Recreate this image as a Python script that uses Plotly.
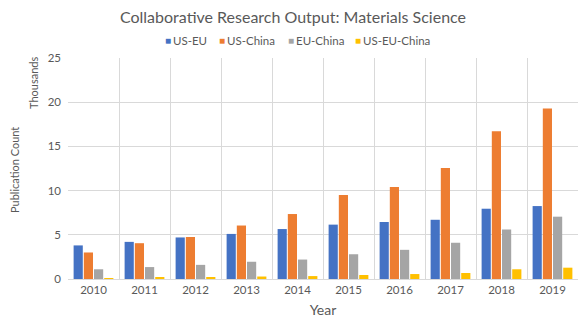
import plotly.graph_objects as go

years = ["2010", "2011", "2012", "2013", "2014", "2015", "2016", "2017", "2018", "2019"]
us_eu = [3.8, 4.2, 4.7, 5.1, 5.65, 6.15, 6.45, 6.7, 7.95, 8.25]
us_china = [3.0, 4.05, 4.75, 6.05, 7.35, 9.5, 10.4, 12.55, 16.7, 19.3]
eu_china = [1.1, 1.35, 1.6, 1.95, 2.2, 2.8, 3.3, 4.1, 5.6, 7.05]
us_eu_china = [0.08, 0.12, 0.22, 0.28, 0.33, 0.45, 0.56, 0.68, 1.1, 1.28]

series = [
    ("US-EU", us_eu, "#4472C4"),
    ("US-China", us_china, "#ED7D31"),
    ("EU-China", eu_china, "#A5A5A5"),
    ("US-EU-China", us_eu_china, "#FFC000"),
]
legend_x = [164, 218, 287, 354]  # left edge of each legend entry (page px)

fig = go.Figure()
for name, vals, col in series:
    fig.add_trace(go.Bar(x=years, y=vals, name=name, marker_color=col,
                         marker_line_width=0, showlegend=False))

font = "Lato, Open Sans, sans-serif"
gray = "#595959"
W, H = 578, 322  # page body has an 8px offset
L, R, T, B = 60, 8, 50, 51
PW, PH = W - L - R, H - T - B
OX, OY = 8 + L, 8 + T  # page position of plot area's top-left

annotations = []
for (name, _, col), lx in zip(series, legend_x):
    ly = 1 + (OY - 40) / PH
    annotations.append(dict(text="■", x=(lx - 1 - OX) / PW, xref="paper", xanchor="left",
                            y=ly, yref="paper", yanchor="middle", showarrow=False,
                            font=dict(size=10, color=col)))
    annotations.append(dict(text=name, x=(lx + 7 - OX) / PW, xref="paper", xanchor="left",
                            y=ly, yref="paper", yanchor="middle", showarrow=False,
                            font=dict(size=11.5, color=gray)))
annotations += [
    dict(text="Publication Count", x=-54 / PW, xref="paper", xanchor="center",
         y=(279 - 170) / PH, yref="paper", yanchor="middle",
         showarrow=False, textangle=-90, font=dict(size=11, color=gray)),
    dict(text="Thousands", x=-35 / PW, xref="paper", xanchor="center",
         y=(279 - 83) / PH, yref="paper", yanchor="middle",
         showarrow=False, textangle=-90, font=dict(size=11, color=gray)),
]

fig.update_layout(
    width=W, height=H,
    margin=dict(l=L, r=R, t=T, b=B, autoexpand=False),
    paper_bgcolor="white", plot_bgcolor="white",
    font=dict(family=font, color=gray, size=12),
    title=dict(text="Collaborative Research Output: Materials Science",
               x=(293 - 8) / W, xanchor="center", xref="container",
               y=1 - 9 / H, yanchor="middle", yref="container",
               font=dict(size=16, color=gray)),
    showlegend=False,
    barmode="group", bargap=0.2, bargroupgap=0.1,
    xaxis=dict(type="category", tickson="boundaries", showgrid=True, automargin=False,
               gridcolor="#D9D9D9", ticks="", showline=True, linecolor="#D9D9D9",
               tickfont=dict(size=11.5, color=gray),
               title=dict(text="Year", font=dict(size=14, color=gray), standoff=10)),
    yaxis=dict(range=[0, 25], dtick=5, showgrid=True, gridcolor="#D9D9D9", automargin=False,
               zeroline=False, showline=False, ticks="", ticklen=0, ticklabelstandoff=6,
               tickfont=dict(size=11.5, color=gray)),
    annotations=annotations,
)
fig.write_html("out.html")
